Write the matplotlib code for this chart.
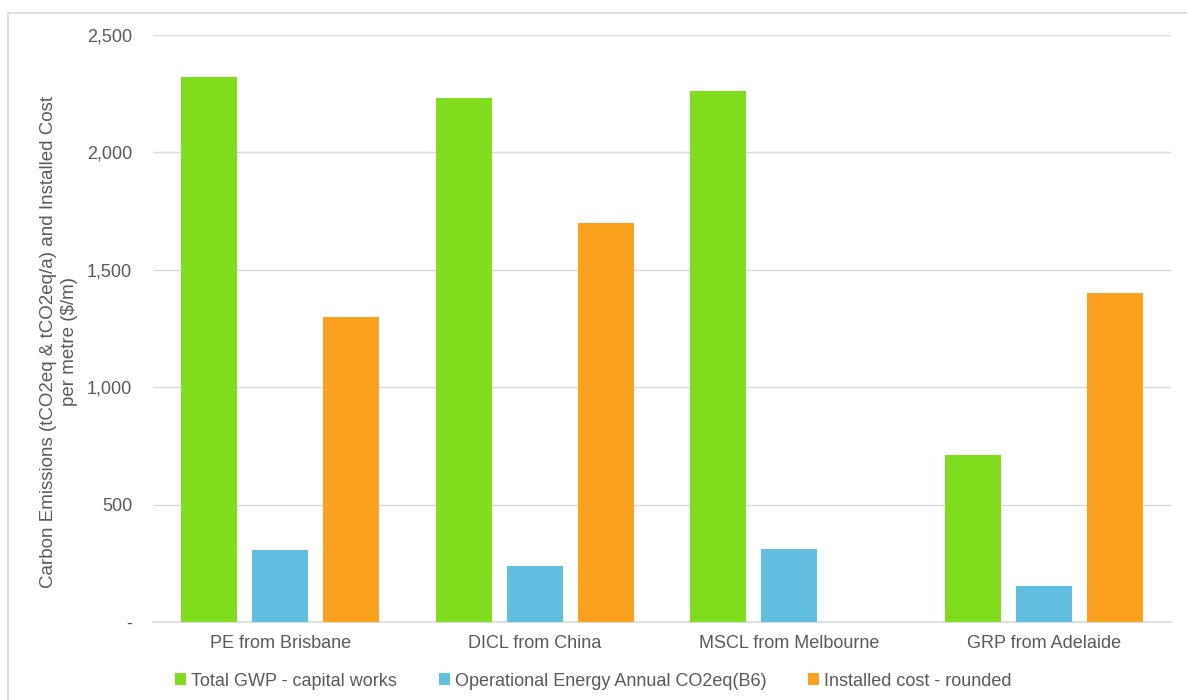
import numpy as np
import matplotlib
matplotlib.use('Agg')
import matplotlib.pyplot as plt
from matplotlib.patches import Rectangle

plt.rcParams['font.family'] = ['Liberation Sans', 'DejaVu Sans']

categories = ['PE from Brisbane', 'DICL from China', 'MSCL from Melbourne', 'GRP from Adelaide']
series_names = ['Total GWP - capital works', 'Operational Energy Annual CO2eq(B6)', 'Installed cost - rounded']
gwp = [2320, 2230, 2262, 710]
operational = [306, 238, 310, 153]
installed = [1300, 1700, 0, 1400]
colors = ['#7fdd1e', '#62bfdf', '#fba11d']

W, H = 1187, 700
fig = plt.figure(figsize=(W/100., H/100.), dpi=100)
ax = fig.add_axes([153./W, 1-622./H, (1171-153.)/W, (622-35.)/H])

# outer chart frame
fig.patches.append(Rectangle((8./W, -0.1), 1.2, (H-13.)/H + 0.1, transform=fig.transFigure,
                             fill=False, edgecolor='#d9d9d9', linewidth=1.2))

x = np.arange(len(categories))
bw = 0.22
step = 0.279
for i, (vals, name) in enumerate(zip([gwp, operational, installed], series_names)):
    ax.bar(x + (i-1)*step, vals, bw, color=colors[i], label=name, zorder=3)

fs = 13
ax.set_xlim(-0.5, len(categories)-0.5)
ax.set_ylim(0, 2500)
ax.set_yticks([0, 500, 1000, 1500, 2000, 2500])
ax.set_yticklabels(['-', '500', '1,000', '1,500', '2,000', '2,500'])
ax.set_xticks(x)
ax.set_xticklabels(categories)
ax.tick_params(axis='both', length=0, labelsize=fs, labelcolor='#595959')
ax.tick_params(axis='y', pad=15)
ax.tick_params(axis='x', pad=9)
ax.yaxis.grid(True, color='#d9d9d9', linewidth=1, zorder=0)
for s in ['top', 'right', 'left']:
    ax.spines[s].set_visible(False)
ax.spines['bottom'].set_color('#d9d9d9')
ax.spines['bottom'].set_linewidth(1.2)

fig.text(59./W, 1-342./H,
         'Carbon Emissions (tCO2eq & tCO2eq/a) and Installed Cost\nper metre ($/m)',
         rotation=90, ha='center', va='center', multialignment='center',
         fontsize=13.5, color='#595959', linespacing=1.25)

leg = fig.legend(loc='center', bbox_to_anchor=(0.5, 1-681./H), ncol=3, frameon=False,
                 fontsize=fs, handlelength=0.6, handleheight=0.6, handletextpad=0.3,
                 columnspacing=2.3, labelcolor='#595959')

fig.savefig('out.png', dpi=100)
